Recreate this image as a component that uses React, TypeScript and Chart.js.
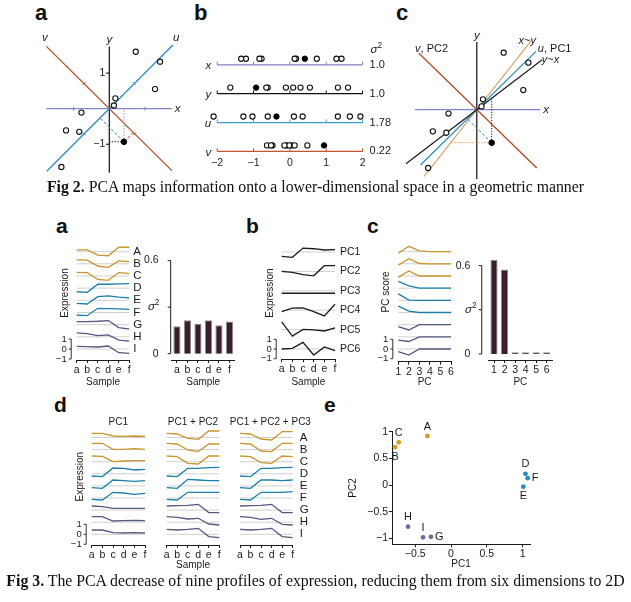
import React, { useEffect, useRef } from "react";
import { Chart, registerables } from "chart.js";

Chart.register(...registerables);

const SANS = '"Liberation Sans", Arial, Helvetica, sans-serif';
const SERIF = '"Liberation Serif", "Times New Roman", Times, serif';
const INK = "#1b1b1b";

/* ============================ DATA ============================ */
// Fig 2 – ten observations (x, y); the last one is the highlighted (filled) point
const fig2X = [0.74, 1.42, 1.28, 0.17, 0.13, -0.78, -1.21, -0.84, -1.34, 0.41];
const fig2Y = [1.6, 1.32, 0.55, 0.29, 0.09, -0.11, -0.61, -0.65, -1.64, -0.93];
// the same observations read on the u and v axes (panel b)
const fig2U = [1.65, 1.94, 1.32, 0.35, 0.11, -0.61, -1.28, -1.03, -2.1, -0.37];
const fig2V = [-0.63, 0.04, 0.48, -0.09, -0.02, -0.48, -0.52, -0.15, 0.13, 0.94];
const fig2Highlight = 9;
const fig2AxisNames = ["x", "y", "u", "v"];
const fig2Variances = ["1.0", "1.0", "1.78", "0.22"];
const fig2LineTicks = [-2, -1, 0, 1, 2];
const fig2UnitTicks = [-1, 1];

// Fig 3
const samples = ["a", "b", "c", "d", "e", "f"];
const genes = ["A", "B", "C", "D", "E", "F", "G", "H", "I"];
const pcNames = ["PC1", "PC2", "PC3", "PC4", "PC5", "PC6"];
const pcNumbers = ["1", "2", "3", "4", "5", "6"];

// panel a: expression profile of each gene (relative to its own baseline)
const expression = [
  [0.17, 0.17, -0.34, -0.41, 0.44, 0.44],
  [0.39, 0.36, -0.22, -0.36, 0.29, 0.22],
  [0.37, 0.34, -0.34, -0.44, 0.34, 0.27],
  [-0.36, -0.42, 0.39, 0.39, 0.42, 0.46],
  [-0.3, -0.37, 0.37, 0.44, 0.31, 0.24],
  [-0.25, -0.32, 0.42, 0.39, 0.36, 0.32],
  [0.3, 0.3, 0.34, 0.41, -0.3, -0.44],
  [0.39, 0.32, 0.12, 0.19, -0.32, -0.42],
  [0.27, 0.24, 0.2, 0.3, -0.37, -0.44],
];
const sampleVariance = [0.177, 0.216, 0.193, 0.216, 0.183, 0.207];

// panel b: principal component profiles
const pcProfiles = [
  [-0.45, -0.55, 0.41, 0.34, 0.21, 0.24],
  [0, -0.1, -0.34, -0.45, 0.59, 0.59],
  [-0.25, -0.25, -0.25, -0.25, -0.25, -0.25],
  [-0.14, 0.21, 0.24, -0.14, -0.59, 0.62],
  [0.79, -0.66, 0.03, -0.03, -0.14, 0.17],
  [0, 0.07, 0.69, -0.62, 0.21, -0.17],
];

// panel c: PC scores of each gene, and variance per PC
const pcScores = [
  [-0.17, 0.55, 0.07, 0, 0, 0],
  [-0.14, 0.52, 0.03, 0, 0, 0],
  [-0.14, 0.52, 0, 0, 0, 0],
  [0.69, 0.24, 0, 0, 0, 0],
  [0.66, 0.03, 0, 0, 0, 0],
  [0.66, 0.14, 0, 0, 0, 0],
  [-0.2, -0.55, 0, 0, 0, 0],
  [-0.35, -0.48, 0, 0, 0, 0],
  [-0.28, -0.62, 0, 0, 0, 0],
];
const pcVariance = [0.64, 0.574, 0.006, 0.002, 0.002, 0.002];

// panel d: reconstructions
const reconPC1 = [
  [0.42, 0.42, 0.15, 0.12, 0.15, 0.12],
  [0.63, 0.63, 0.03, 0.03, 0.1, 0.03],
  [0.57, 0.54, 0.01, 0.07, 0.11, 0.11],
  [-0.22, -0.28, 0.58, 0.55, 0.38, 0.45],
  [-0.17, -0.24, 0.59, 0.53, 0.46, 0.53],
  [-0.13, -0.2, 0.57, 0.5, 0.37, 0.47],
  [0.41, 0.35, 0.18, 0.18, 0.18, 0.18],
  [0.56, 0.56, 0.12, 0.16, 0.19, 0.16],
  [0.43, 0.43, 0.17, 0.13, 0.17, 0.13],
];
const reconPC12 = [
  [0.42, 0.35, -0.08, -0.18, 0.65, 0.65],
  [0.63, 0.56, -0.04, -0.2, 0.56, 0.56],
  [0.57, 0.51, -0.16, -0.23, 0.57, 0.57],
  [-0.22, -0.28, 0.55, 0.55, 0.62, 0.65],
  [-0.17, -0.24, 0.66, 0.59, 0.53, 0.53],
  [-0.13, -0.2, 0.57, 0.57, 0.57, 0.57],
  [0.41, 0.45, 0.48, 0.58, -0.25, -0.25],
  [0.56, 0.49, 0.32, 0.39, -0.18, -0.28],
  [0.5, 0.43, 0.5, 0.6, -0.23, -0.33],
];
const reconPC123 = [
  [0.42, 0.35, -0.15, -0.25, 0.59, 0.59],
  [0.63, 0.56, -0.14, -0.2, 0.63, 0.63],
  [0.57, 0.51, -0.09, -0.16, 0.57, 0.51],
  [-0.22, -0.28, 0.55, 0.55, 0.62, 0.65],
  [-0.17, -0.24, 0.59, 0.59, 0.53, 0.59],
  [-0.13, -0.2, 0.57, 0.57, 0.57, 0.63],
  [0.41, 0.45, 0.48, 0.58, -0.25, -0.25],
  [0.56, 0.49, 0.29, 0.39, -0.21, -0.28],
  [0.5, 0.43, 0.5, 0.6, -0.23, -0.33],
];
const reconTitles = ["PC1", "PC1 + PC2", "PC1 + PC2 + PC3"];

// panel e: score plot
const scorePC1 = [-0.33, -0.78, -0.73, 1.04, 1.01, 1.07, -0.28, -0.6, -0.39];
const scorePC2 = [0.92, 0.71, 0.8, 0.21, -0.03, 0.13, -0.97, -0.78, -0.98];

const barTicks = [0, 0.3, 0.6];
const barTickLabels = ["0", "", "0.6"];
const scoreTicksX = [-0.5, 0, 0.5, 1];
const scoreTicksY = [-1, -0.5, 0, 0.5, 1];
const scaleBarTicks = [1, 0, -1];

/* ============================ STYLE ============================ */
const GOLD = "#c9952f";
const TEAL = "#1e7fa6";
const SLATE = "#55587f";
const geneColors = [GOLD, GOLD, GOLD, TEAL, TEAL, TEAL, SLATE, SLATE, SLATE];
const scoreColors = ["#d99b2b", "#d99b2b", "#d99b2b", "#2390ba", "#2390ba", "#2390ba", "#6d6e95", "#6d6e95", "#6d6e95"];
const scoreLabelSide = ["top", "bottom", "top", "top", "bottom", "right", "right", "top", "top"];
const AXIS_X = "#8084c6";
const TEAL_D = "#2a8dba";
const RED = "#b24a26";
const TAN = "#dba466";
const fig2RowColors = [AXIS_X, "#111111", "#3a9ec6", "#c25430"];
const TICK_FONT = 10.5;
const TITLE_FONT = 10;

/* ============================ HELPERS ============================ */
type Part = { t: string; it?: boolean; sup?: boolean };
function drawText(ctx: CanvasRenderingContext2D, content: string | Part[], x: number, y: number, o: any = {}) {
  const size = o.size ?? 11;
  const parts: Part[] = typeof content === "string" ? [{ t: content, it: o.italic }] : content;
  ctx.save();
  ctx.translate(x, y);
  if (o.rot) ctx.rotate(o.rot);
  ctx.fillStyle = o.color ?? INK;
  ctx.textBaseline = o.base ?? "middle";
  ctx.textAlign = "left";
  const fontOf = (p: Part) => `${p.it ? "italic " : ""}${p.sup ? size * 0.72 : size}px ${SANS}`;
  const widths = parts.map((p) => {
    ctx.font = fontOf(p);
    return ctx.measureText(p.t).width;
  });
  const total = widths.reduce((a, b) => a + b, 0);
  let cx = o.align === "left" ? 0 : o.align === "right" ? -total : -total / 2;
  parts.forEach((p, i) => {
    ctx.font = fontOf(p);
    ctx.fillText(p.t, cx, p.sup ? -size * 0.36 : 0);
    cx += widths[i];
  });
  ctx.restore();
}
function drawPath(ctx: CanvasRenderingContext2D, pts: number[][], color: string, width = 1, dash: number[] = []) {
  ctx.save();
  ctx.strokeStyle = color;
  ctx.lineWidth = width;
  ctx.setLineDash(dash);
  ctx.beginPath();
  pts.forEach(([px, py], i) => (i ? ctx.lineTo(px, py) : ctx.moveTo(px, py)));
  ctx.stroke();
  ctx.restore();
}
const fmt = (v: number) => (v < 0 ? "\u2212" + Math.abs(v) : String(v));
const mean = (a: number[]) => a.reduce((s, v) => s + v, 0) / a.length;

const common: any = {
  responsive: false,
  animation: false,
  events: [],
  plugins: { legend: { display: false }, tooltip: { enabled: false }, title: { display: false } },
};

function lineDs(pts: any[], color: string, width = 1.2, dash: number[] = []) {
  return { data: pts, showLine: true, borderColor: color, borderWidth: width, borderDash: dash, pointRadius: 0, fill: false, clip: false };
}
function tickDs(pts: any[], color: string, rotation: number, r = 2) {
  return { data: pts, showLine: false, pointStyle: "line", pointRadius: r, pointRotation: rotation, pointBorderColor: color, pointBorderWidth: 1, clip: false };
}
const byX = (slope: number, x1: number, x2: number) => [
  { x: x1, y: slope * x1 },
  { x: x2, y: slope * x2 },
];

function pcaStats() {
  const mx = mean(fig2X);
  const my = mean(fig2Y);
  let sxx = 0, syy = 0, sxy = 0;
  fig2X.forEach((x, i) => {
    const dx = x - mx, dy = fig2Y[i] - my;
    sxx += dx * dx;
    syy += dy * dy;
    sxy += dx * dy;
  });
  const ang = 0.5 * Math.atan2(2 * sxy, sxx - syy);
  const u = [Math.cos(ang), Math.sin(ang)];
  const v = [Math.sin(ang), -Math.cos(ang)];
  return { u, v, uSlope: u[1] / u[0], vSlope: v[1] / v[0], yOnX: sxy / sxx, xOnY: syy / sxy };
}

/* ============================ FIG 2 ============================ */
function fig2GeomConfig(panel: string, lim: any) {
  const st = pcaStats();
  const pts = fig2X.map((x, i) => ({ x, y: fig2Y[i] }));
  const open = pts.filter((_, i) => i !== fig2Highlight);
  const hi = pts[fig2Highlight];
  const pu = hi.x * st.u[0] + hi.y * st.u[1];
  const projU = { x: pu * st.u[0], y: pu * st.u[1] };
  const pv = hi.x * st.v[0] + hi.y * st.v[1];
  const projV = { x: pv * st.v[0], y: pv * st.v[1] };
  const ds: any[] = [
    { data: [hi], pointRadius: 2.8, pointBackgroundColor: "#000", pointBorderColor: "#000", pointBorderWidth: 1, clip: false },
    { data: open, pointRadius: 2.6, pointBackgroundColor: "#fff", pointBorderColor: "#111", pointBorderWidth: 1.1, clip: false },
  ];
  if (panel === "a") {
    ds.push(
      lineDs([hi, projU], TEAL_D, 1, [3, 2]),
      lineDs([hi, projV], RED, 1, [3, 2]),
      lineDs([hi, { x: hi.x, y: 0 }], "#9a9a9a", 1, [1.5, 1.5]),
      lineDs([{ x: 0, y: hi.y }, hi], "#111", 1, [1.2, 1.5]),
      tickDs(fig2UnitTicks.map((t) => ({ x: t, y: 0 })), AXIS_X, 90),
      tickDs(fig2UnitTicks.map((t) => ({ x: -0.045, y: t })), "#111", 0, 1.8),
      tickDs(fig2UnitTicks.map((t) => ({ x: t * st.u[0], y: t * st.u[1] })), TEAL_D, 45),
      tickDs(fig2UnitTicks.map((t) => ({ x: t * st.v[0], y: t * st.v[1] })), RED, -45),
      lineDs(byX(st.uSlope, -1.75, 1.78), TEAL_D, 1.3),
      lineDs(byX(st.vSlope, -1.76, 1.75), RED, 1.3),
      lineDs([{ x: 0, y: 1.75 }, { x: 0, y: -1.8 }], "#111", 1.2),
      lineDs([{ x: -1.76, y: 0 }, { x: 1.75, y: 0 }], AXIS_X, 1.2)
    );
  } else {
    ds.push(
      lineDs([hi, projU], TEAL_D, 1, [3, 2]),
      lineDs([hi, { x: hi.x, y: st.yOnX * hi.x }], "#111", 1, [1.2, 1.5]),
      lineDs([hi, { x: hi.y / st.xOnY, y: hi.y }], TAN, 1, [1.5, 1.5]),
      lineDs(byX(st.yOnX, -1.95, 1.8), "#1a1a1a", 1.2),
      lineDs(byX(st.uSlope, -1.55, 1.63), TEAL_D, 1.3),
      lineDs(byX(st.xOnY, -1.45, 1.5), TAN, 1.2),
      lineDs(byX(st.vSlope, -1.6, 1.65), RED, 1.3),
      lineDs([{ x: 0, y: 1.9 }, { x: 0, y: -1.95 }], "#111", 1.2),
      lineDs([{ x: -1.7, y: 0 }, { x: 1.75, y: 0 }], AXIS_X, 1.2)
    );
  }
  return {
    type: "scatter",
    data: { datasets: ds },
    options: {
      ...common,
      layout: { padding: 0 },
      scales: {
        x: { type: "linear", display: false, min: lim.x0, max: lim.x1 },
        y: { type: "linear", display: false, min: lim.y0, max: lim.y1 },
      },
    },
    plugins: [
      {
        id: "deco",
        afterDraw(chart: any) {
          const ctx = chart.ctx;
          const X = (v: number) => chart.scales.x.getPixelForValue(v);
          const Y = (v: number) => chart.scales.y.getPixelForValue(v);
          if (panel === "a") {
            fig2UnitTicks.forEach((t) => drawText(ctx, fmt(t), X(0) - 4, Y(t), { align: "right", size: 10.5 }));
            drawText(ctx, "x", X(1.75) + 3, Y(0), { align: "left", italic: true, size: 11.5 });
            drawText(ctx, "y", X(0), Y(1.78), { base: "bottom", italic: true, size: 11.5 });
            drawText(ctx, "u", X(1.87), Y(1.84), { base: "bottom", italic: true, size: 11.5 });
            drawText(ctx, "v", X(-1.8), Y(1.82), { base: "bottom", italic: true, size: 11.5 });
          } else {
            drawText(ctx, "x", X(1.75) + 3, Y(0), { align: "left", italic: true, size: 11.5 });
            drawText(ctx, "y", X(0), Y(1.92), { base: "bottom", italic: true, size: 11.5 });
            drawText(ctx, [{ t: "v", it: true }, { t: ", PC2" }], X(-1.7), Y(1.71), { align: "left", size: 11 });
            drawText(ctx, [{ t: "x", it: true }, { t: "~" }, { t: "y", it: true }], X(1.39), Y(1.93), { size: 11 });
            drawText(ctx, [{ t: "u", it: true }, { t: ", PC1" }], X(1.68), Y(1.71), { align: "left", size: 11 });
            drawText(ctx, [{ t: "y", it: true }, { t: "~" }, { t: "x", it: true }], X(1.79), Y(1.39), { align: "left", size: 11 });
          }
        },
      },
    ],
  };
}

function fig2LinesConfig() {
  const rows = [fig2X, fig2Y, fig2U, fig2V];
  const ds: any[] = [];
  rows.forEach((vals, k) => {
    const r = rows.length - 1 - k;
    ds.push({
      data: vals.filter((_, i) => i === fig2Highlight).map((v) => ({ x: v, y: r + 0.21 })),
      pointRadius: 2.7, pointBackgroundColor: "#000", pointBorderColor: "#000", pointBorderWidth: 1, clip: false,
    });
    ds.push({
      data: vals.filter((_, i) => i !== fig2Highlight).map((v) => ({ x: v, y: r + 0.21 })),
      pointRadius: 2.6, pointBackgroundColor: "#fff", pointBorderColor: "#111", pointBorderWidth: 1.1, clip: false,
    });
  });
  rows.forEach((_, k) => {
    const r = rows.length - 1 - k;
    ds.push(tickDs(fig2LineTicks.map((t) => ({ x: t, y: r + 0.055 })), fig2RowColors[k], 90, 1.7));
    ds.push(lineDs([{ x: fig2LineTicks[0], y: r }, { x: fig2LineTicks[fig2LineTicks.length - 1], y: r }], fig2RowColors[k], 1.2));
  });
  return {
    type: "scatter",
    data: { datasets: ds },
    options: {
      ...common,
      layout: { padding: 0 },
      scales: {
        x: { type: "linear", display: false, min: -2.471, max: 2.889 },
        y: { type: "linear", display: false, min: -0.742, max: 4.097 },
      },
    },
    plugins: [
      {
        id: "deco",
        afterDraw(chart: any) {
          const ctx = chart.ctx;
          const X = (v: number) => chart.scales.x.getPixelForValue(v);
          const Y = (v: number) => chart.scales.y.getPixelForValue(v);
          const lo = fig2LineTicks[0], hiT = fig2LineTicks[fig2LineTicks.length - 1];
          fig2AxisNames.forEach((nm, k) => {
            const r = fig2AxisNames.length - 1 - k;
            drawText(ctx, nm, X(lo) - 6, Y(r) + 1, { align: "right", italic: true, size: 11.5 });
            drawText(ctx, fig2Variances[k], X(hiT) + 7, Y(r), { align: "left", size: 11 });
          });
          drawText(ctx, [{ t: "\u03c3", it: true }, { t: "2", sup: true }], X(hiT) + 8, Y(fig2AxisNames.length - 1) - 15, { align: "left", size: 11.5 });
          fig2LineTicks.forEach((t) => drawText(ctx, fmt(t), X(t), Y(0) + 12, { size: 10.5 }));
        },
      },
    ],
  };
}

/* ============================ FIG 3 ============================ */
function categoryAxis(h: number, title: string | undefined, titlePadB: number, offset: boolean) {
  return {
    type: "category",
    offset,
    border: { display: true, color: INK, width: 1 },
    grid: { display: true, drawOnChartArea: false, drawTicks: true, tickLength: 3, color: INK, lineWidth: 1, offset: false },
    ticks: { autoSkip: false, maxRotation: 0, minRotation: 0, padding: 1, color: INK, font: { size: TICK_FONT, family: SANS } },
    title: { display: !!title, text: title || "", color: INK, font: { size: TITLE_FONT, family: SANS }, padding: { top: 0, bottom: titlePadB } },
    afterFit: (sc: any) => {
      sc.height = h;
    },
  };
}

function profileConfig(s: any) {
  const n = s.rows.length;
  const bases = s.rows.map((_: any, k: number) => (n - 1 - k) * s.spacing);
  const colored = s.rows.map((vals: number[], k: number) => ({
    data: vals.map((v) => bases[k] + v), borderColor: s.colors[k], borderWidth: 1.3, pointRadius: 0, clip: false,
  }));
  const guides = s.rows.map((_: any, k: number) => ({
    data: s.labels.map(() => bases[k]), borderColor: "#c9c9c9", borderWidth: 0.9, pointRadius: 0,
  }));
  return {
    type: "line",
    data: { labels: s.labels, datasets: [...colored, ...guides] },
    options: {
      ...common,
      layout: { padding: { left: s.padL, right: s.padR, top: s.padT, bottom: 0 } },
      scales: {
        x: categoryAxis(s.axisH, s.xTitle, s.titlePadB ?? 3.4, false),
        y: { type: "linear", display: false, min: s.yMin, max: s.yMax },
      },
    },
    plugins: [
      {
        id: "deco",
        afterDraw(chart: any) {
          const ctx = chart.ctx;
          const a = chart.chartArea;
          const Y = (v: number) => chart.scales.y.getPixelForValue(v);
          if (s.rowLabels) s.rowLabels.forEach((lb: string, k: number) => drawText(ctx, lb, a.right + s.rowLabelGap, Y(bases[k]), { align: "left", size: s.rowLabelSize ?? 11.5 }));
          if (s.yTitle) drawText(ctx, s.yTitle, a.left - 11.7, Y(s.yTitleAt), { size: TITLE_FONT, rot: -Math.PI / 2 });
          if (s.scaleBar) {
            scaleBarTicks.forEach((t) => drawText(ctx, fmt(t), a.left - 10, Y(t), { align: "right", size: 9.5 }));
            const bx = a.left - 5.5;
            drawPath(ctx, [[bx, Y(scaleBarTicks[0])], [bx, Y(scaleBarTicks[scaleBarTicks.length - 1])]], INK, 0.9);
            scaleBarTicks.forEach((t) => drawPath(ctx, [[bx - 2.5, Y(t)], [bx, Y(t)]], INK, 0.9));
          }
          if (s.panelTitle) drawText(ctx, s.panelTitle, (a.left + a.right) / 2 + (s.titleShift ?? 0), a.top - 6, { size: TITLE_FONT });
        },
      },
    ],
  };
}

function barConfig(s: any) {
  return {
    type: "bar",
    data: {
      labels: s.labels,
      datasets: [
        { data: s.values, backgroundColor: "#3b1e2c", borderColor: "#8c8c8c", borderWidth: 1, barPercentage: 0.68, categoryPercentage: 1, minBarLength: 1.6 },
      ],
    },
    options: {
      ...common,
      layout: { padding: { left: 0, right: s.padR, top: s.padT, bottom: 0 } },
      scales: {
        x: categoryAxis(32, s.xTitle, 3.4, true),
        y: {
          type: "linear",
          min: s.yMin,
          max: s.yMax,
          border: { display: false },
          grid: { display: false, drawOnChartArea: false },
          ticks: { padding: s.labelPad, color: INK, font: { size: TICK_FONT, family: SANS }, callback: (_v: any, i: number) => barTickLabels[i] },
          afterBuildTicks: (sc: any) => {
            sc.ticks = barTicks.map((v) => ({ value: v }));
          },
          afterFit: (sc: any) => {
            sc.width = s.yAxisW;
          },
        },
      },
    },
    plugins: [
      {
        id: "deco",
        afterDraw(chart: any) {
          const ctx = chart.ctx;
          const a = chart.chartArea;
          const Y = (v: number) => chart.scales.y.getPixelForValue(v);
          const ax = a.left - s.axisGap;
          drawPath(ctx, [[ax, Y(barTicks[0])], [ax, Y(barTicks[barTicks.length - 1])]], INK, 1);
          barTicks.forEach((t) => drawPath(ctx, [[ax - 3, Y(t)], [ax, Y(t)]], INK, 1));
          drawText(ctx, [{ t: "\u03c3", it: true }, { t: "2", sup: true }], a.left - 18, Y(0.3), { size: 11.5 });
        },
      },
    ],
  };
}

function scoreConfig() {
  const axisBase = (ticksArr: number[]) => ({
    type: "linear",
    border: { display: true, color: INK, width: 1 },
    grid: { display: true, drawOnChartArea: false, drawTicks: true, tickLength: 3, color: INK },
    ticks: { padding: 1, color: INK, font: { size: TICK_FONT, family: SANS }, callback: (v: number) => fmt(v) },
    afterBuildTicks: (sc: any) => {
      sc.ticks = ticksArr.map((v) => ({ value: v }));
    },
  });
  return {
    type: "scatter",
    data: {
      datasets: [
        {
          data: scorePC1.map((x, i) => ({ x, y: scorePC2[i] })),
          pointRadius: 2.4, pointBackgroundColor: scoreColors, pointBorderWidth: 0, clip: false,
        },
      ],
    },
    options: {
      ...common,
      layout: { padding: { left: 0, right: 30, top: 21.7, bottom: 0 } },
      scales: {
        x: {
          ...axisBase(scoreTicksX), min: -0.824, max: 1.103,
          title: { display: true, text: "PC1", color: INK, font: { size: TITLE_FONT, family: SANS }, padding: { top: 0, bottom: 3.4 } },
          afterFit: (sc: any) => { sc.height = 29.7; },
        },
        y: {
          ...axisBase(scoreTicksY), min: -1.11, max: 1.0,
          title: { display: true, text: "PC2", color: INK, font: { size: TITLE_FONT, family: SANS }, padding: { top: 7.2, bottom: 0 } },
          afterFit: (sc: any) => { sc.width = 52; },
        },
      },
    },
    plugins: [
      {
        id: "deco",
        afterDraw(chart: any) {
          const ctx = chart.ctx;
          const X = (v: number) => chart.scales.x.getPixelForValue(v);
          const Y = (v: number) => chart.scales.y.getPixelForValue(v);
          genes.forEach((g, i) => {
            const px = X(scorePC1[i]), py = Y(scorePC2[i]);
            const side = scoreLabelSide[i];
            if (side === "top") drawText(ctx, g, px, py - 4, { base: "bottom", size: 11 });
            else if (side === "bottom") drawText(ctx, g, px, py + 4, { base: "top", size: 11 });
            else drawText(ctx, g, px + 4, py, { align: "left", size: 11 });
          });
        },
      },
    ],
  };
}

/* ============================ COMPONENTS ============================ */
function ChartBox({ x, y, w, h, make }: { x: number; y: number; w: number; h: number; make: () => any }) {
  const ref = useRef<HTMLCanvasElement | null>(null);
  useEffect(() => {
    const chart = new Chart(ref.current as HTMLCanvasElement, make());
    return () => chart.destroy();
  }, []);
  return <canvas ref={ref} width={w} height={h} style={{ position: "absolute", left: x, top: y, width: w, height: h }} />;
}

function Letter({ ch, x, base, size }: { ch: string; x: number; base: number; size: number }) {
  return (
    <div style={{ position: "absolute", left: x - 1, top: base - 0.8465 * size, fontFamily: SANS, fontWeight: 700, fontSize: size, lineHeight: 1, color: "#111" }}>
      {ch}
    </div>
  );
}

function Caption({ bold, rest, base }: { bold: string; rest: string; base: number }) {
  const size = 15.8;
  return (
    <div style={{ position: "absolute", left: 0, width: 631, top: base - 0.8375 * size, textAlign: "center", fontFamily: SERIF, fontSize: size, lineHeight: 1, whiteSpace: "nowrap", color: "#111" }}>
      <b>{bold}</b>
      {rest}
    </div>
  );
}

export default function App() {
  const profileCommon = { spacing: 1.217, colors: geneColors, scaleBar: true };
  return (
    <div style={{ position: "fixed", left: 0, top: 0, width: 631, height: 602, background: "#fff", overflow: "hidden" }}>
      {/* Fig 2 */}
      <Letter ch="a" x={36} base={21} size={22} />
      <Letter ch="b" x={195} base={21} size={22} />
      <Letter ch="c" x={397} base={21} size={22} />
      <ChartBox x={28} y={24} w={172} h={160} make={() => fig2GeomConfig("a", { x0: -2.132, x1: 2.395, y0: -1.974, y1: 2.237 })} />
      <ChartBox x={195} y={28} w={205} h={150} make={fig2LinesConfig} />
      <ChartBox x={400} y={24} w={231} h={160} make={() => fig2GeomConfig("c", { x0: -1.974, x1: 4.105, y0: -1.947, y1: 2.263 })} />
      <Caption bold="Fig 2." rest=" PCA maps information onto a lower-dimensional space in a geometric manner" base={192} />

      {/* Fig 3 */}
      <Letter ch="a" x={57} base={233} size={21} />
      <Letter ch="b" x={247} base={233} size={21} />
      <Letter ch="c" x={368} base={233} size={21} />
      <Letter ch="d" x={55} base={412} size={21} />
      <Letter ch="e" x={325} base={412} size={21} />

      <ChartBox x={50} y={236} w={100} h={156} make={() => profileConfig({
        ...profileCommon, labels: samples, rows: expression, yMin: -1.1, yMax: 10.9,
        padL: 26.7, padR: 20.7, padT: 4, axisH: 32, xTitle: "Sample", rowLabels: genes, rowLabelGap: 4,
        yTitle: "Expression", yTitleAt: 5.6,
      })} />
      <ChartBox x={140} y={240} w={100} h={152} make={() => barConfig({
        labels: samples, values: sampleVariance, yMin: -0.041, yMax: 0.66, padR: 5.3, padT: 1.5, yAxisW: 31.7, axisGap: 1, labelPad: 5, xTitle: "Sample",
      })} />
      <ChartBox x={240} y={236} w={140} h={156} make={() => profileConfig({
        labels: samples, rows: pcProfiles, colors: pcNames.map(() => "#1c1c1c"), spacing: 2, scaleBar: true,
        yMin: -1.06, yMax: 11.24, padL: 41.7, padR: 45, padT: 4, axisH: 32.7, xTitle: "Sample",
        rowLabels: pcNames, rowLabelGap: 5, rowLabelSize: 10.5, yTitle: "Expression", yTitleAt: 5.77,
      })} />
      <ChartBox x={368} y={236} w={100} h={156} make={() => profileConfig({
        labels: pcNumbers, rows: pcScores, colors: geneColors, spacing: 1.255, scaleBar: true,
        yMin: -1.31, yMax: 11.24, padL: 30.3, padR: 17, padT: 4, axisH: 30.3, xTitle: "PC",
        yTitle: "PC score", yTitleAt: 5.88,
      })} />
      <ChartBox x={440} y={240} w={120} h={152} make={() => barConfig({
        labels: pcNumbers, values: pcVariance, yMin: -0.041, yMax: 0.66, padR: 8, padT: 1.5, yAxisW: 48.75, axisGap: 7, labelPad: 10.5, xTitle: "PC",
      })} />

      <ChartBox x={60} y={412} w={100} h={162} make={() => profileConfig({
        ...profileCommon, spacing: 1.21, labels: samples, rows: reconPC1, yMin: -1.07, yMax: 10.63,
        padL: 31.7, padR: 15, padT: 16, axisH: 29, panelTitle: reconTitles[0], yTitle: "Expression", yTitleAt: 5.76,
      })} />
      <ChartBox x={152} y={412} w={80} h={162} make={() => profileConfig({
        ...profileCommon, spacing: 1.21, scaleBar: false, labels: samples, rows: reconPC12, yMin: -1.07, yMax: 10.63,
        padL: 14.7, padR: 12.7, padT: 16, axisH: 29, xTitle: "Sample", titlePadB: 2.4, panelTitle: reconTitles[1],
      })} />
      <ChartBox x={222} y={412} w={96} h={162} make={() => profileConfig({
        ...profileCommon, spacing: 1.21, scaleBar: false, labels: samples, rows: reconPC123, yMin: -1.07, yMax: 10.63,
        padL: 18, padR: 25.3, padT: 16, axisH: 29, panelTitle: reconTitles[2], titleShift: 4, rowLabels: genes, rowLabelGap: 7,
      })} />
      <ChartBox x={340} y={410} w={220} h={164} make={scoreConfig} />

      <Caption bold="Fig 3." rest=" The PCA decrease of nine profiles of expression, reducing them from six dimensions to 2D" base={586} />
    </div>
  );
}
